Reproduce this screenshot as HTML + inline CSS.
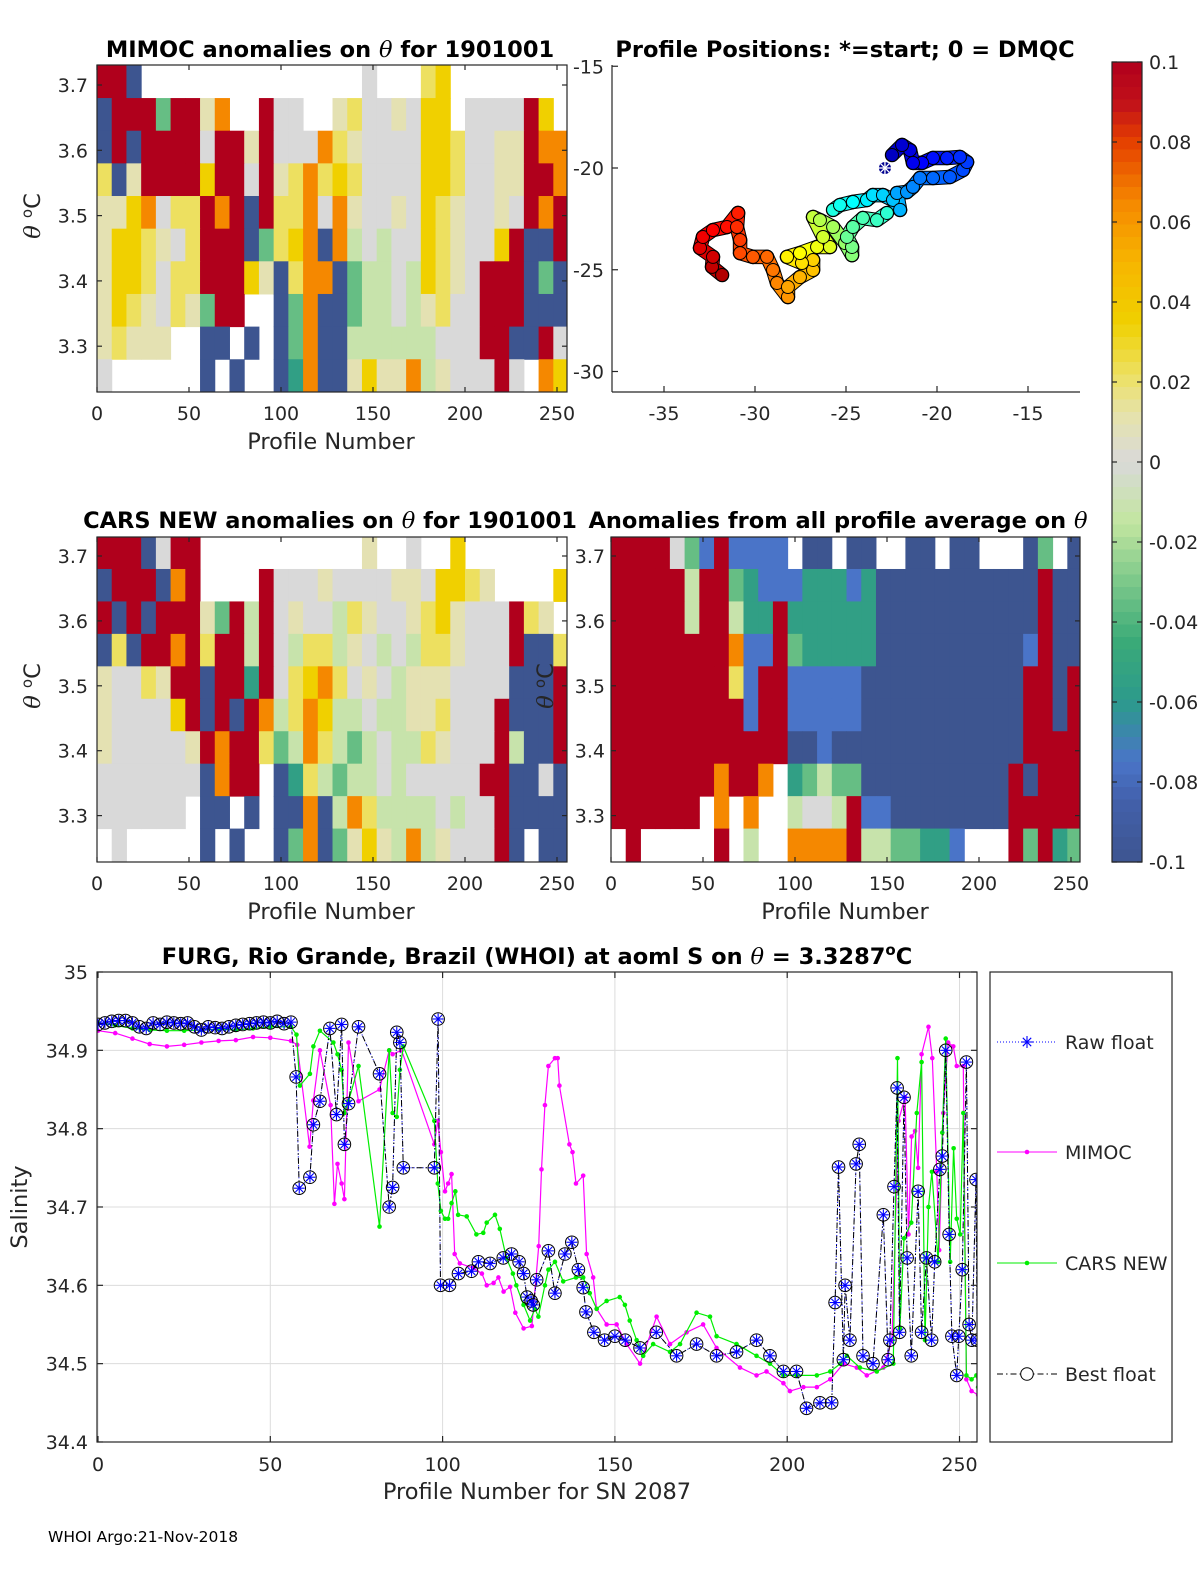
<!DOCTYPE html>
<html><head><meta charset="utf-8"><title>Float 1901001 anomalies</title>
<style>
html,body{margin:0;padding:0;background:#fff;}
svg{display:block;font-family:"DejaVu Sans","Liberation Sans",sans-serif;}
.tk{font-size:19px;fill:#262626;}
.ttl{font-size:22.5px;font-weight:bold;fill:#000;}
.lab{font-size:22.5px;fill:#262626;}
</style></head>
<body>
<svg id="fig" width="1200" height="1575" viewBox="0 0 1200 1575" xmlns="http://www.w3.org/2000/svg">
<rect x="0" y="0" width="1200" height="1575" fill="#fff"/>
<defs>
<clipPath id="cp1"><rect x="97" y="65" width="470" height="327"/></clipPath>
<clipPath id="cp3"><rect x="97" y="537" width="470" height="325"/></clipPath>
<clipPath id="cp4"><rect x="611" y="537" width="469" height="325"/></clipPath>
<clipPath id="cpb"><rect x="97" y="972" width="880" height="470"/></clipPath>
</defs>
<g id="p1" clip-path="url(#cp1)"></g>
<g id="p3" clip-path="url(#cp3)"></g>
<g id="p4" clip-path="url(#cp4)"></g>
<g id="mapg"></g>
<g id="cbar"></g>
<g id="bottom"></g>
<g id="axes"></g>

<text class="ttl" x="330" y="57" text-anchor="middle">MIMOC anomalies on <tspan font-family="DejaVu Serif" font-style="italic" font-weight="normal">θ</tspan>  for 1901001</text>
<text class="ttl" x="845" y="57" text-anchor="middle">Profile Positions: *=start; 0 = DMQC</text>
<text class="ttl" x="330" y="528" text-anchor="middle">CARS NEW anomalies on <tspan font-family="DejaVu Serif" font-style="italic" font-weight="normal">θ</tspan> for 1901001</text>
<text class="ttl" x="838" y="528" text-anchor="middle">Anomalies from all profile average on <tspan font-family="DejaVu Serif" font-style="italic" font-weight="normal">θ</tspan></text>
<text class="lab" x="331" y="449" text-anchor="middle">Profile Number</text>
<text class="lab" x="331" y="919" text-anchor="middle">Profile Number</text>
<text class="lab" x="845" y="919" text-anchor="middle">Profile Number</text>
<text class="lab" transform="translate(40,216) rotate(-90)" text-anchor="middle"><tspan font-family="DejaVu Serif" font-style="italic">θ</tspan> <tspan dy="-8" font-size="15">o</tspan><tspan dy="8">C</tspan></text>
<text class="lab" transform="translate(40,686) rotate(-90)" text-anchor="middle"><tspan font-family="DejaVu Serif" font-style="italic">θ</tspan> <tspan dy="-8" font-size="15">o</tspan><tspan dy="8">C</tspan></text>
<text class="lab" transform="translate(553,686) rotate(-90)" text-anchor="middle"><tspan font-family="DejaVu Serif" font-style="italic">θ</tspan> <tspan dy="-8" font-size="15">o</tspan><tspan dy="8">C</tspan></text>
<text class="ttl" x="537" y="964" text-anchor="middle">FURG, Rio Grande, Brazil (WHOI) at aoml S on <tspan font-family="DejaVu Serif" font-style="italic" font-weight="normal">θ</tspan> = 3.3287<tspan dy="-9" font-size="15">o</tspan><tspan dy="9">C</tspan></text>
<text class="lab" transform="translate(27,1207) rotate(-90)" text-anchor="middle">Salinity</text>
<text class="lab" x="537" y="1499" text-anchor="middle">Profile Number for SN 2087</text>
<text x="48" y="1542" font-size="15.5" fill="#000">WHOI Argo:21-Nov-2018</text>
</svg>
<script>
// ---------- heatmap data (rows top->bottom in theta bins of 0.05, columns of 8 profiles) ----------
const codeValues = {R:0.1,O:0.065,Y:0.035,y:0.022,L:0.01,G:0,l:-0.012,g:-0.035,t:-0.055,b:-0.075,B:-0.1};
const thetaTop = 3.73;
const thetaStep = 0.05;
const profilesPerCol = 8;
const mimocRows = [
"RRB...............G...yY........",
"BRRRgRRLO..RGG..LyGGLGYY.GGGGRY.",
"BRBRRRRGRRLRGGGOyLGGGGYYyGGLLROO",
"yBLRRRRYRRGRLyOyYyGGGGYYyGGLLRRO",
"LLYOGyyRORBRyyOGOLGGLGYyLGGLGROR",
"LYYyLGyRRRBgyYOBOlGlGGYyLGGYRBBR",
"LYYyGyyRRRYLByOOBgllGlYyLGRRRBgB",
"LYyLGyLgRR..BgOBBgllGlLyGGRRRBBB",
"LyLLL..BB.B.BgOBBllllllGGGRRBBRG",
"G......B.B..BtOBBLYLLOlLGGGRG.OY"];
const carsRows = [
"RRRBGRR...........L..G..Y.......",
"BRRRBOR....RGGGLGGGGLLGYYyL....Y",
"RBRBRRRLgRlRGLGGlyLGGLyYLGGGRyL.",
"ByBRRORyRRlRGlyylLGlGlyyLGGGRBBy",
"LGGyLRRBRRtRGyYOyGLGlLLLGGGGBBBR",
"LGGGGYRBRBROlyOYllGllLLyGGGRBBBR",
"LGGGGGLRORRyglOylglGllyLGGGRlBBR",
"GGGGGGGBORR.BtylgllGlGGGGGRRBBGB",
"GGGGGG.BB.B.BBOBlOyllllGlGGRBBBB",
".G.....B.B..BgOBgLYLlOlLGGGRB.BB"];
const averageRows = [
"RRRRGgbRbbbb.BB.BB..BB.BB...Bg.B",
"RRRRRlRRgtbbbtttbtBBBBBBBBBBBRBB",
"RRRRRlRRlttRttttttBBBBBBBBBBBRBB",
"RRRRRRRRObbRgtttttBBBBBBBBBBbRBB",
"RRRRRRRRybRRbbbbbBBBBBBBBBBBRRBR",
"RRRRRRRRRbRRbbbbbBBBBBBBBBBBRRBR",
"RRRRRRRRRRRRBBbBBBBBBBBBBBBBRRRR",
"RRRRRRRORRO.tglggBBBBBBBBBBRBRRR",
"RRRRRR.O.O..lGGlRbbBBBBBBBBRRRRR",
".R.....R.l..OOOORllggttb...RgRtg"];

// ---------- map track (lon, lat) ----------
const trackLon = [-22.86,-22.47,-21.92,-21.48,-21.32,-20.82,-20.22,-19.45,-18.74,-18.35,-18.57,-19.29,-20.22,-20.93,-21.32,-21.65,-22.20,-22.03,-22.42,-22.97,-23.52,-23.85,-24.62,-25.33,-25.71,-22.75,-23.30,-24.07,-24.62,-24.95,-24.67,-24.67,-25.05,-25.71,-26.43,-26.81,-26.26,-25.88,-26.59,-27.53,-28.24,-27.42,-26.81,-26.81,-27.53,-28.19,-28.19,-28.79,-29.01,-29.34,-30.11,-30.82,-30.82,-30.99,-30.93,-31.54,-32.31,-32.86,-33.02,-32.31,-32.36,-31.81];
const trackLat = [-20.00,-19.36,-18.87,-19.12,-19.75,-19.75,-19.51,-19.51,-19.46,-19.71,-20.10,-20.44,-20.49,-20.49,-20.93,-21.18,-21.23,-22.06,-21.57,-21.33,-21.33,-21.57,-21.67,-21.82,-22.06,-22.21,-22.56,-22.46,-22.90,-23.39,-23.88,-24.28,-23.69,-22.90,-22.56,-22.41,-23.39,-23.88,-23.88,-24.18,-24.37,-24.67,-24.52,-25.01,-25.36,-25.85,-26.34,-25.65,-25.01,-24.37,-24.37,-24.18,-23.54,-22.90,-22.21,-22.90,-23.05,-23.39,-23.93,-24.37,-24.86,-25.26];

// ---------- salinity series ----------
const bestP = [0,2,4,6,8,10,12,14,16,18,20,22,24,26,28,30,32,34,36,38,40,42,44,46,48,50,52,54,56,57.5,58.4,61.5,62.5,64.4,67.3,69.2,70.7,71.5,72.7,75.6,81.7,84.5,85.5,86.7,87.6,88.6,97.6,98.7,99.4,102,104.6,108.4,110.4,113.8,117.6,120,122.2,123.5,124.5,125.7,126.3,127.3,130.7,132.6,135.5,137.5,139.4,140.8,141.6,143.9,147,150,153,157.3,162,167.9,173.7,179.5,185.3,191.1,195,198.9,202.7,205.6,209.5,212.9,213.9,214.9,216.3,216.8,218.2,220,220.9,222,224.9,227.9,229.3,229.8,231,231.9,232.6,233.9,234.8,236,238,239,240.4,241.9,242.8,244.3,245,246,247,247.8,249.2,249.8,250.8,252,252.8,253.6,254.8,255.1];
const bestS = [34.933,34.935,34.937,34.938,34.938,34.935,34.93,34.928,34.935,34.933,34.936,34.935,34.934,34.935,34.93,34.926,34.93,34.929,34.928,34.93,34.932,34.933,34.934,34.935,34.936,34.935,34.937,34.934,34.936,34.866,34.724,34.738,34.805,34.835,34.928,34.818,34.933,34.78,34.832,34.93,34.87,34.70,34.725,34.923,34.91,34.75,34.75,34.94,34.60,34.60,34.615,34.618,34.63,34.628,34.635,34.64,34.63,34.615,34.585,34.58,34.575,34.607,34.644,34.59,34.64,34.655,34.62,34.597,34.566,34.54,34.53,34.535,34.53,34.52,34.54,34.51,34.525,34.51,34.515,34.53,34.51,34.49,34.49,34.443,34.45,34.45,34.578,34.751,34.505,34.60,34.53,34.755,34.78,34.51,34.50,34.69,34.505,34.53,34.726,34.852,34.54,34.84,34.635,34.51,34.72,34.54,34.635,34.53,34.63,34.748,34.765,34.90,34.665,34.535,34.485,34.535,34.62,34.885,34.55,34.53,34.735,34.53];
const mimocP = [0,5,10,15,20,25,30,35,40,45,50,56,57.8,61.4,62.5,64.4,67.5,68.6,69.5,70.7,71.5,72.7,75.6,81.7,84.5,85.5,88.1,97.6,98.6,99.5,100.7,101.6,102.6,103.5,105,108.9,111.4,112.8,114.8,116.2,117.7,119.6,121.1,123.5,125.9,127.9,128.7,129.7,130.7,132.6,133.4,133.9,136.8,137.7,138.7,140.8,141.8,143.7,144.7,147.6,150.5,153.4,157.3,162.1,166,170.8,175.6,179.5,186.3,191.1,194,198.9,200.8,204.7,208.6,212.5,216.3,220.2,223.1,227.9,230.4,232.3,234.2,235.2,236.1,237.1,238,239,241,242.1,243.4,244.1,245.3,246.7,248.2,249.2,251.1,252,253.5,255.4];
const mimocS = [34.925,34.922,34.915,34.908,34.905,34.907,34.91,34.912,34.913,34.917,34.916,34.912,34.907,34.777,34.836,34.90,34.83,34.704,34.755,34.73,34.71,34.91,34.835,34.85,34.90,34.895,34.90,34.78,34.81,34.77,34.72,34.73,34.742,34.64,34.628,34.622,34.615,34.60,34.603,34.61,34.592,34.598,34.565,34.545,34.548,34.65,34.748,34.83,34.88,34.89,34.89,34.855,34.78,34.77,34.73,34.74,34.64,34.61,34.57,34.55,34.55,34.525,34.50,34.56,34.525,34.54,34.55,34.52,34.495,34.485,34.49,34.475,34.465,34.47,34.47,34.48,34.50,34.495,34.485,34.495,34.53,34.81,34.84,34.665,34.79,34.797,34.75,34.895,34.93,34.89,34.745,34.645,34.82,34.91,34.905,34.88,34.88,34.48,34.465,34.46];
const carsP = [0,5,10,15,20,25,30,35,40,45,50,56,57.6,58.6,61.5,62.5,64.4,68.3,69.5,70.7,71.5,72.7,75.6,81.7,84.5,85.5,86.7,87.6,88.6,97.6,98.6,99.5,100.7,101.6,102.6,103.7,104.5,107,109.8,111.8,112.8,115.2,116.6,118.5,120.4,121.4,123.5,125.4,126.8,127.8,129.7,130.7,132.6,135,138.7,140.8,142.7,144.7,147.6,151.4,152.9,154.3,156.3,158.2,161.1,166,168.9,173.7,177.6,179.5,185.3,191.1,195,198.9,202.7,208.6,212.5,215.4,217.3,221.1,226,230.8,232,232.7,233.9,236,237.6,239,240,241,242,243.8,245,246,247.3,248.3,249.2,250.2,251.1,252,253.5,254.9,255.4];
const carsS = [34.935,34.932,34.928,34.926,34.925,34.925,34.926,34.927,34.926,34.928,34.93,34.93,34.92,34.855,34.87,34.905,34.925,34.91,34.895,34.875,34.82,34.835,34.88,34.675,34.90,34.82,34.815,34.875,34.905,34.81,34.73,34.695,34.685,34.685,34.705,34.72,34.69,34.688,34.665,34.667,34.68,34.69,34.672,34.635,34.615,34.60,34.575,34.555,34.57,34.56,34.60,34.62,34.63,34.605,34.61,34.61,34.59,34.57,34.58,34.585,34.575,34.555,34.53,34.51,34.525,34.515,34.525,34.565,34.56,34.535,34.525,34.51,34.50,34.485,34.485,34.485,34.49,34.50,34.51,34.495,34.49,34.50,34.89,34.545,34.66,34.68,34.82,34.885,34.53,34.70,34.745,34.63,34.795,34.915,34.63,34.775,34.685,34.665,34.82,34.485,34.48,34.485,34.47];

// ---------- tick labels ----------
const thetaTicks = [3.7,3.6,3.5,3.4,3.3];
const profileTicks = [0,50,100,150,200,250];
const lonTicks = [-35,-30,-25,-20,-15];
const latTicks = [-15,-20,-25,-30];
const cbarTicks = [0.1,0.08,0.06,0.04,0.02,0,-0.02,-0.04,-0.06,-0.08,-0.1];
const salTicks = [35,34.9,34.8,34.7,34.6,34.5,34.4];

const NS = 'http://www.w3.org/2000/svg';
function mk(tag, attrs, parent){const e=document.createElementNS(NS,tag);for(const k in attrs)e.setAttribute(k,attrs[k]);parent.appendChild(e);return e;}

const cmStops = [[-0.1,[61,85,144]],[-0.085,[66,96,170]],[-0.075,[74,116,200]],[-0.06,[44,154,140]],[-0.045,[58,170,120]],[-0.03,[124,200,138]],[-0.015,[195,230,160]],[0,[217,217,217]],[0.012,[230,227,170]],[0.022,[237,224,96]],[0.035,[240,208,0]],[0.05,[247,181,0]],[0.065,[245,136,0]],[0.08,[229,64,0]],[0.09,[192,16,26]],[0.1,[176,0,28]]];
function cmap(v){
  v=Math.max(-0.1,Math.min(0.1,v));
  for(let i=0;i<cmStops.length-1;i++){const a=cmStops[i],b=cmStops[i+1];
    if(v<=b[0]){const t=(v-a[0])/(b[0]-a[0]);const c=a[1].map((x,j)=>Math.round(x+(b[1][j]-x)*t));return 'rgb('+c.join(',')+')';}}
  return 'rgb(176,0,28)';
}
function jet(t){
  const r=Math.max(0,Math.min(1,1.5-Math.abs(4*t-3))),g=Math.max(0,Math.min(1,1.5-Math.abs(4*t-2))),b=Math.max(0,Math.min(1,1.5-Math.abs(4*t-1)));
  return 'rgb('+Math.round(r*255)+','+Math.round(g*255)+','+Math.round(b*255)+')';
}

function heat(gid, rows, x0, pxPerProf, yRef, pxPerTheta){
  const g=document.getElementById(gid);
  const xs=p=>x0+p*pxPerProf, ys=th=>yRef+(3.7-th)*pxPerTheta;
  rows.forEach((row,r)=>{
    const thHi=thetaTop-r*thetaStep, thLo=thHi-thetaStep;
    for(let c=0;c<row.length;c++){
      const ch=row[c]; if(!(ch in codeValues)) continue;
      const p0=c*profilesPerCol,p1=p0+profilesPerCol;
      const rc=mk('rect',{x:xs(p0),y:ys(thHi),width:xs(p1)-xs(p0)+0.5,height:ys(thLo)-ys(thHi)+0.5,fill:cmap(codeValues[ch])},g);
      
      
    }
  });
}
heat('p1',mimocRows,97,1.84,85,653);
heat('p3',carsRows,97,1.84,556,649);
heat('p4',averageRows,611,1.84,556,649);

const ax=document.getElementById('axes');
function txt(s,x,y,anchor,cls,name){const t=mk('text',{x:x,y:y,'text-anchor':anchor,class:cls||'tk'},ax);t.textContent=s;
  
  return t;}
function line(x1,y1,x2,y2,stroke,w){return mk('line',{x1:x1,y1:y1,x2:x2,y2:y2,stroke:stroke||'#262626','stroke-width':w||1.2},ax);}

function heatAxes(x0,x1,y0,y1,yRef,pxT,labelLeft,name){
  mk('rect',{x:x0,y:y0,width:x1-x0,height:y1-y0,fill:'none',stroke:'#262626','stroke-width':1.2},ax);
  thetaTicks.forEach(v=>{const y=yRef+(3.7-v)*pxT;line(x0,y,x0+5,y);line(x1,y,x1-5,y);
    txt(v.toFixed(1),labelLeft,y+7,'end','tk',name+'-y-tick');});
  profileTicks.forEach(v=>{const x=x0+v*1.84;line(x,y1,x,y1-5);line(x,y0,x,y0+5);
    txt(String(v),x,y1+28,'middle','tk',name+'-x-tick');});
}
heatAxes(97,567,65,392,85,653,88,'mimoc');
heatAxes(97,567,537,862,556,649,88,'cars');
heatAxes(611,1080,537,862,556,649,605,'average');

// ---------- map ----------
const mg=document.getElementById('mapg');
const lonX=l=>664+(l+35)*18.2, latY=l=>168+(-20-l)*20.35;
line(612,65,612,392); line(612,392,1080,392);
latTicks.forEach(v=>{const y=latY(v);line(612,y,618,y);txt(String(v),604,y+7,'end','tk','map-lat-tick');});
lonTicks.forEach(v=>{const x=lonX(v);line(x,392,x,386);txt(String(v),x,420,'middle','tk','map-lon-tick');});
const n=trackLon.length;
const colAt=i=>jet(0.05+0.9*i/(n-1));
for(let i=2;i<n;i++){
  const x1=lonX(trackLon[i-1]),y1=latY(trackLat[i-1]),x2=lonX(trackLon[i]),y2=latY(trackLat[i]);
  if(Math.hypot(x2-x1,y2-y1)>30) continue;
  mk('line',{x1:x1,y1:y1,x2:x2,y2:y2,stroke:'#000','stroke-width':14.5,'stroke-linecap':'round'},mg);
}
for(let i=2;i<n;i++){
  const x1=lonX(trackLon[i-1]),y1=latY(trackLat[i-1]),x2=lonX(trackLon[i]),y2=latY(trackLat[i]);
  if(Math.hypot(x2-x1,y2-y1)>30) continue;
  const l=mk('line',{x1:x1,y1:y1,x2:x2,y2:y2,stroke:colAt(i-0.5),'stroke-width':12.5,'stroke-linecap':'round'},mg);
  
  
}
for(let i=n-1;i>=1;i--){
  const c=mk('circle',{cx:lonX(trackLon[i]),cy:latY(trackLat[i]),r:6.5,fill:colAt(i),stroke:'#000','stroke-width':1},mg);
  
  
}
{const sx=lonX(trackLon[0]),sy=latY(trackLat[0]);const sg=mk('g',{},mg);
  
  
  mk('circle',{cx:sx,cy:sy,r:6,fill:'#00008f'},sg);
  [[1,0],[0,1],[0.7,0.7],[0.7,-0.7]].forEach(d=>mk('line',{x1:sx-d[0]*6,y1:sy-d[1]*6,x2:sx+d[0]*6,y2:sy+d[1]*6,stroke:'#fff','stroke-width':1.3},sg));}

// ---------- colorbar ----------
const cb=document.getElementById('cbar');
const cbY=v=>62+(0.1-v)*4000;
for(let k=0;k<64;k++){const v1=0.1-k*0.2/64,v0=v1-0.2/64;
  const r=mk('rect',{x:1112,y:cbY(v1),width:30,height:cbY(v0)-cbY(v1)+0.6,fill:cmap((v0+v1)/2)},cb);
  
  }
mk('rect',{x:1112,y:62,width:30,height:800,fill:'none',stroke:'#262626','stroke-width':1.2},ax);
cbarTicks.forEach(v=>{const y=cbY(v);line(1112,y,1117,y);line(1142,y,1137,y);
  txt(v===0?'0':String(v),1149,y+7,'start','tk','colorbar-tick');});

// ---------- bottom salinity chart ----------
const bg=document.getElementById('bottom');
const sx=p=>98+p*3.446, sy=s=>972+(35-s)*783.3;
profileTicks.forEach(v=>mk('line',{x1:sx(v),y1:972,x2:sx(v),y2:1442,stroke:'#dcdcdc','stroke-width':1},bg));
salTicks.forEach(v=>mk('line',{x1:97,y1:sy(v),x2:977,y2:sy(v),stroke:'#dcdcdc','stroke-width':1},bg));
const pl=mk('g',{'clip-path':'url(#cpb)'},bg);
function pts(P,S){return P.map((p,i)=>sx(p).toFixed(1)+','+sy(S[i]).toFixed(1)).join(' ');}
const mL=mk('polyline',{points:pts(mimocP,mimocS),fill:'none',stroke:'#ff00ff','stroke-width':1.2},pl);


mimocP.forEach((p,i)=>{const c=mk('circle',{cx:sx(p),cy:sy(mimocS[i]),r:2.3,fill:'#ff00ff'},pl);
  
  });
const cL=mk('polyline',{points:pts(carsP,carsS),fill:'none',stroke:'#00ee00','stroke-width':1.2},pl);


carsP.forEach((p,i)=>{const c=mk('circle',{cx:sx(p),cy:sy(carsS[i]),r:2.3,fill:'#00ee00'},pl);
  
  });
const rL=mk('polyline',{points:pts(bestP,bestS),fill:'none',stroke:'#0000ff','stroke-width':1,'stroke-dasharray':'1,2'},pl);


const bL=mk('polyline',{points:pts(bestP,bestS),fill:'none',stroke:'#000','stroke-width':1,'stroke-dasharray':'6,3,1.5,3'},pl);


function star(g,x,y,r,col){[[1,0],[0,1],[0.7,0.7],[0.7,-0.7]].forEach(d=>mk('line',{x1:x-d[0]*r,y1:y-d[1]*r,x2:x+d[0]*r,y2:y+d[1]*r,stroke:col,'stroke-width':1.1},g));}
bestP.forEach((p,i)=>{const g=mk('g',{},pl);
  
  
  star(g,sx(p),sy(bestS[i]),5.5,'#0000ff');
  mk('circle',{cx:sx(p),cy:sy(bestS[i]),r:6.3,fill:'none',stroke:'#000','stroke-width':1},g);});
mk('rect',{x:97,y:972,width:880,height:470,fill:'none',stroke:'#262626','stroke-width':1.2},ax);
salTicks.forEach(v=>{const y=sy(v);line(97,y,103,y);line(977,y,971,y);
  txt(v===35?'35':v.toFixed(1),88,y+7,'end','tk','salinity-y-tick');});
profileTicks.forEach(v=>{const x=sx(v);line(x,1442,x,1436);line(x,972,x,978);
  txt(String(v),x,1471,'middle','tk','salinity-x-tick');});

// legend
const lg=mk('g',{},ax);


mk('rect',{x:990,y:972,width:182,height:470,fill:'#fff',stroke:'#262626','stroke-width':1.2},lg);
const legendNames=['Raw float','MIMOC','CARS NEW','Best float'];
const legendY=[1042,1152,1263,1374];
legendNames.forEach((nm,i)=>{const y=legendY[i];const e=mk('g',{},lg);
  
  
  if(i===0){mk('line',{x1:997,y1:y,x2:1057,y2:y,stroke:'#0000ff','stroke-dasharray':'1,2'},e);star(e,1027,y,6,'#0000ff');}
  if(i===1){mk('line',{x1:997,y1:y,x2:1057,y2:y,stroke:'#ff00ff'},e);mk('circle',{cx:1027,cy:y,r:2.3,fill:'#ff00ff'},e);}
  if(i===2){mk('line',{x1:997,y1:y,x2:1057,y2:y,stroke:'#00ee00'},e);mk('circle',{cx:1027,cy:y,r:2.3,fill:'#00ee00'},e);}
  if(i===3){mk('line',{x1:997,y1:y,x2:1057,y2:y,stroke:'#000','stroke-dasharray':'6,3,1.5,3'},e);mk('circle',{cx:1027,cy:y,r:6.3,fill:'#fff',stroke:'#000'},e);}
  const t=mk('text',{x:1065,y:y+7,class:'tk'},e);t.textContent=nm;});
</script>
</body></html>
